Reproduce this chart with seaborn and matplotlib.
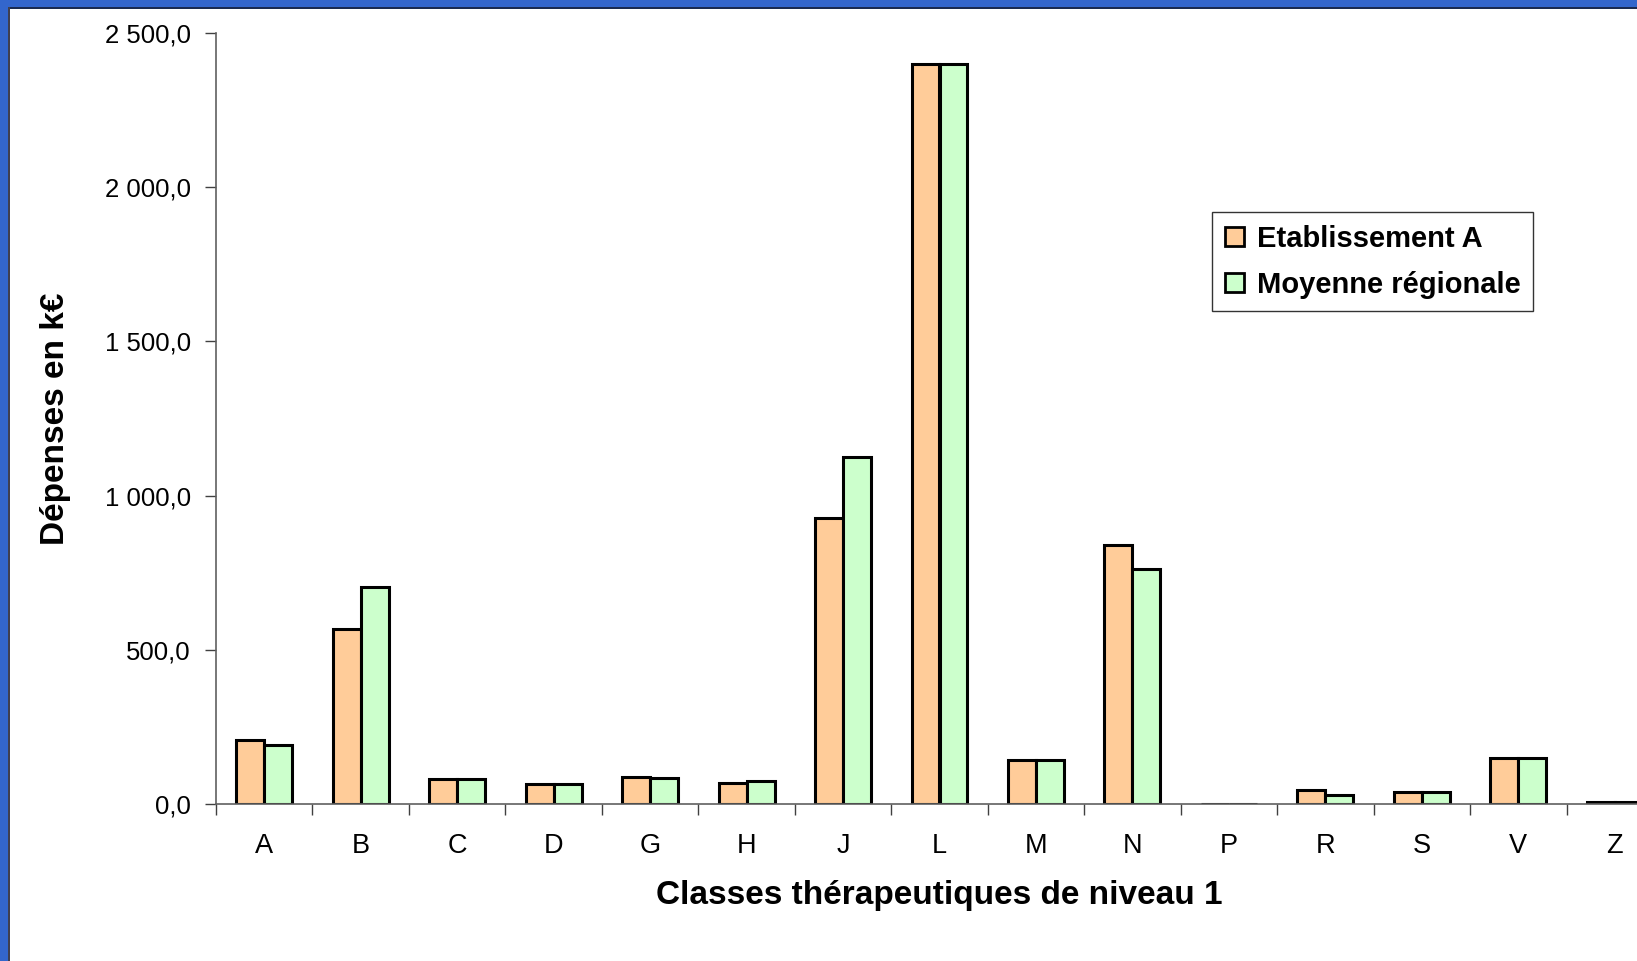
import matplotlib
matplotlib.use("Agg")
import matplotlib.pyplot as plt
from matplotlib.patches import Rectangle
from matplotlib.ticker import FuncFormatter, FixedLocator, MultipleLocator
import seaborn as sns
import pandas as pd
import numpy as np

categories = ["A", "B", "C", "D", "G", "H", "J", "L", "M", "N", "P", "R", "S", "V", "Z"]
etablissement = [207, 567, 81, 65, 88, 68, 926, 2400, 142, 841, 0, 47, 39, 150, 5]
moyenne = [191, 704, 81, 65, 83, 76, 1126, 2400, 142, 763, 0, 30, 39, 150, 5]
series_names = ["Etablissement A", "Moyenne régionale"]
colors = ["#FFCC99", "#CCFFCC"]

df = pd.DataFrame({
    "classe": categories * 2,
    "valeur": etablissement + moyenne,
    "serie": [series_names[0]] * len(categories) + [series_names[1]] * len(categories),
})

sns.set_theme(style="white")
plt.rcParams["font.family"] = ["Liberation Sans", "DejaVu Sans"]
plt.rcParams["text.color"] = "black"
plt.rcParams["axes.labelcolor"] = "black"
plt.rcParams["xtick.color"] = "black"
plt.rcParams["ytick.color"] = "black"

W, H = 1637, 961
fig = plt.figure(figsize=(W / 100, H / 100), dpi=100)
fig.patch.set_facecolor("white")

ax_left, ax_right, ax_top, ax_bot = 216, 1663, 33, 804
ax = fig.add_axes([ax_left / W, 1 - ax_bot / H, (ax_right - ax_left) / W, (ax_bot - ax_top) / H])

sns.barplot(data=df, x="classe", y="valeur", hue="serie", order=categories,
            hue_order=series_names, palette=colors, width=0.58, dodge=True,
            edgecolor="black", linewidth=2.2, saturation=1, ax=ax, errorbar=None)

ax.set_xlim(-0.5, len(categories) - 0.5)
ax.set_ylim(0, 2500)
ax.yaxis.set_major_locator(MultipleLocator(500))
ax.yaxis.set_major_formatter(FuncFormatter(
    lambda v, p: f"{v:,.1f}".replace(",", " ").replace(".", ",")))

# x ticks between categories
ax.xaxis.set_minor_locator(FixedLocator(np.arange(-0.5, len(categories), 1.0)))
ax.tick_params(axis="x", which="major", length=0, pad=21, labelsize=19.5,
               labelcolor="black")
ax.tick_params(axis="x", which="minor", length=8, width=1, color="#404040", direction="out")
ax.tick_params(axis="y", which="major", length=8, width=1, color="#404040",
               direction="out", pad=10, labelsize=18.5, labelcolor="black")
ax.tick_params(axis="x", which="major", bottom=True)
ax.tick_params(axis="x", which="minor", bottom=True)
ax.tick_params(axis="y", which="major", left=True)

for s in ["top", "right"]:
    ax.spines[s].set_visible(False)
for s in ["left", "bottom"]:
    ax.spines[s].set_color("#606060")
    ax.spines[s].set_linewidth(1.2)

ax.set_xlabel("Classes thérapeutiques de niveau 1", fontsize=24, fontweight="bold",
              labelpad=15, color="black")
ax.set_ylabel("Dépenses en k€", fontsize=24, fontweight="bold", labelpad=24.5,
              color="black")

leg = ax.legend(loc="upper left", bbox_to_anchor=(1212 / W, 1 - 212 / H),
                bbox_transform=fig.transFigure, frameon=True, fancybox=False,
                shadow=False, edgecolor="black", fontsize=21, handlelength=0.65,
                handleheight=0.65, handletextpad=0.45, labelspacing=0.62,
                borderpad=0.43, borderaxespad=0)
leg.get_frame().set_linewidth(1.0)
for t in leg.get_texts():
    t.set_fontweight("bold")
    t.set_color("black")
for h in leg.legend_handles:
    h.set_edgecolor("black")
    h.set_linewidth(2)

# Blue border top and left
fig.patches.append(Rectangle((0, 1 - 7 / H), 1, 7 / H, transform=fig.transFigure,
                             facecolor="#3366CC", edgecolor="none", zorder=10))
fig.patches.append(Rectangle((0, 1 - 9 / H), 1, 2 / H, transform=fig.transFigure,
                             facecolor="#1a2a50", edgecolor="none", zorder=10))
fig.patches.append(Rectangle((0, 0), 8 / W, 1, transform=fig.transFigure,
                             facecolor="#3366CC", edgecolor="none", zorder=11))
fig.patches.append(Rectangle((8 / W, 0), 1.5 / W, 1 - 7 / H, transform=fig.transFigure,
                             facecolor="#404050", edgecolor="none", zorder=11))

fig.savefig("out.png", dpi=100)
